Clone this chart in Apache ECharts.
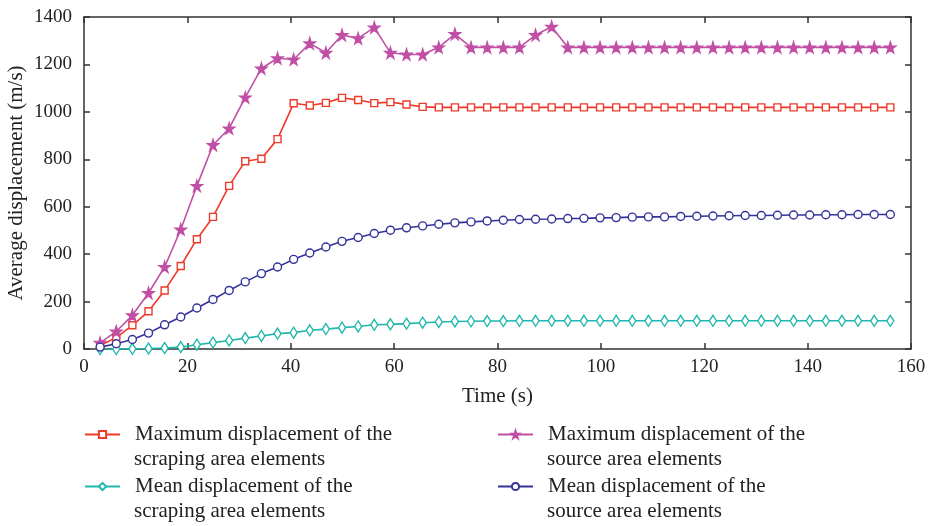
<!DOCTYPE html>
<html>
<head>
<meta charset="utf-8">
<script src="https://cdn.jsdelivr.net/npm/echarts@6/dist/echarts.min.js"></script>
<style>html,body{margin:0;padding:0;background:#fff}#c{width:929px;height:526px}</style>
</head>
<body>
<div id="c"></div>
<script>
const times = [3.12,6.24,9.36,12.48,15.6,18.72,21.84,24.96,28.08,31.2,34.32,37.44,40.56,43.68,46.8,49.92,53.04,56.16,59.28,62.4,65.52,68.64,71.76,74.88,78.0,81.12,84.24,87.36,90.48,93.6,96.72,99.84,102.96,106.08,109.2,112.32,115.44,118.56,121.68,124.8,127.92,131.04,134.16,137.28,140.4,143.52,146.64,149.76,152.88,156.0];
const maxScraping = [15,48,100,159,247,350,463,557,688,792,802,885,1036,1027,1038,1059,1050,1037,1041,1031,1021,1019,1019,1019,1019,1019,1019,1019,1019,1019,1019,1019,1019,1019,1019,1019,1019,1019,1019,1019,1019,1019,1019,1019,1019,1019,1019,1019,1019,1019];
const meanScraping = [0,0,1,2,4,8,18,27,36,46,55,65,69,79,84,90,95,102,104,107,111,114,116,117,118,118,119,119,119,119,119,119,119,119,119,119,119,119,119,119,119,119,119,119,119,119,119,119,119,119];
const maxSource = [26,74,142,236,346,504,688,860,930,1061,1183,1226,1221,1289,1249,1324,1310,1356,1249,1242,1242,1272,1328,1272,1272,1272,1272,1324,1359,1272,1272,1272,1272,1272,1272,1272,1272,1272,1272,1272,1272,1272,1272,1272,1272,1272,1272,1272,1272,1272];
const meanSource = [8,22,40,67,102,135,173,209,247,283,318,346,378,405,430,454,470,487,501,511,519,526,532,536,540,543,546,547,548,550,551,553,554,556,557,557,559,560,561,562,563,563,564,565,565,566,566,567,567,567];
const names = ['Maximum displacement of the scraping area elements','Mean displacement of the scraping area elements','Maximum displacement of the source area elements','Mean displacement of the source area elements'];
const firstLines = ['Maximum displacement of the','Mean displacement of the','Maximum displacement of the','Mean displacement of the'];
const secondLines = ['scraping area elements','scraping area elements','source area elements','source area elements'];
const xTicks = [0,20,40,60,80,100,120,140,160];
const yTicks = [0,200,400,600,800,1000,1200,1400];

const font = 'Liberation Serif';
const colors = ['#ef3a2a','#1fb7ae','#c04fa5','#33339a'];
const pair = arr => times.map((t,i)=>[t,arr[i]]);
const datasets = [maxScraping, meanScraping, maxSource, meanSource];
const symbols = ['rect','diamond','path://M50,0 L61,35 L98,35 L68,57 L79,91 L50,70 L21,91 L32,57 L2,35 L39,35 Z','circle'];
const sizes = [7,[7,11],11,8];
const filled = [false,false,true,false];
const axisIdx = [0,1,0,0];

const axisLineStyle = {color:'#333', width:1.5};
const chart = echarts.init(document.getElementById('c'));
const legendPos = [[84,424],[84,476],[497,424],[497,476]];
const secondPos = [[134,461],[134,513],[547,461],[547,513]];
chart.setOption({
  animation:false,
  grid:{left:84, right:18, top:17, bottom:177, outerBoundsMode:'none', containLabel:false},
  xAxis:[{
    type:'value', min:0, max:160, interval:20,
    axisLine:{onZero:false,lineStyle:axisLineStyle}, axisTick:{inside:true,length:6,lineStyle:axisLineStyle},
    splitLine:{show:false},
    axisLabel:{fontFamily:font,fontSize:19,color:'#222',margin:9,customValues:xTicks},
    name:'Time (s)', nameLocation:'middle', nameGap:37,
    nameTextStyle:{fontFamily:font,fontSize:21,color:'#222'}
  },{
    type:'value', min:0, max:160, interval:20, position:'top',
    axisLine:{show:true,onZero:false,lineStyle:axisLineStyle}, axisTick:{show:true,inside:true,length:6,lineStyle:axisLineStyle},
    axisLabel:{show:false}, splitLine:{show:false}
  }],
  yAxis:[{
    type:'value', min:0, max:1400, interval:200,
    axisLine:{show:true,onZero:false,lineStyle:axisLineStyle}, axisTick:{show:true,inside:true,length:6,lineStyle:axisLineStyle},
    splitLine:{show:false},
    axisLabel:{fontFamily:font,fontSize:19,color:'#222',margin:12,customValues:yTicks,formatter:v=>String(v)},
    name:'Average displacement (m/s)', nameLocation:'middle', nameGap:57, nameMoveOverlap:false,
    nameTextStyle:{fontFamily:font,fontSize:21,color:'#222'}
  },{
    type:'value', min:0, max:1400, interval:200, position:'right',
    axisLine:{show:true,onZero:false,lineStyle:axisLineStyle}, axisTick:{show:true,inside:true,length:6,lineStyle:axisLineStyle},
    axisLabel:{show:false}, splitLine:{show:false}
  }],
  legend: names.map((n,i)=>({
    data:[n], left:legendPos[i][0], top:legendPos[i][1], padding:0,
    itemWidth:35, itemHeight:9,
    formatter:()=>firstLines[i],
    textStyle:{fontFamily:font,fontSize:21,color:'#222',padding:[0,0,0,10]}
  })),
  graphic: secondLines.map((s,i)=>({
    type:'text', left:secondPos[i][0], top:secondPos[i][1]-12,
    style:{text:s, fontFamily:font, fontSize:21, fill:'#222'}
  })),
  series: names.map((n,i)=>({
    name:n, type:'line', data:pair(datasets[i]),
    xAxisIndex:axisIdx[i], yAxisIndex:axisIdx[i],
    symbol:symbols[i], symbolSize:sizes[i], showAllSymbol:true,
    lineStyle:{color:colors[i], width:1.6},
    itemStyle:{color: filled[i]?colors[i]:'#fff', borderColor:colors[i], borderWidth:1.4},
    emphasis:{disabled:true}
  }))
});
</script>
</body>
</html>
